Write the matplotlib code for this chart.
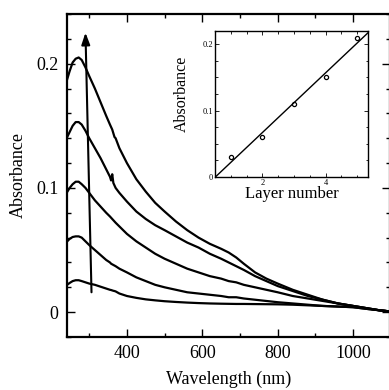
import numpy as np
import matplotlib
matplotlib.use("Agg")
import matplotlib.pyplot as plt
from matplotlib.ticker import MultipleLocator

plt.rcParams['font.family'] = ['Liberation Serif', 'DejaVu Serif']

# UV-vis spectra, 1 to 5 layers
wavelength = [240, 248, 256, 264, 272, 280, 290, 300, 315, 330, 345, 355, 358, 361, 364, 367,
              370, 380, 400, 425, 450, 475, 500, 530, 560, 590, 620, 650, 670, 690, 710, 740,
              770, 800, 840, 880, 920, 960, 1000, 1040, 1070, 1100]
abs_5 = [0.186, 0.194, 0.201, 0.204, 0.205, 0.203, 0.197, 0.190, 0.180, 0.169, 0.158, 0.151,
         0.149, 0.147, 0.144, 0.141, 0.140, 0.132, 0.120, 0.107, 0.097, 0.088, 0.081, 0.073,
         0.066, 0.060, 0.055, 0.051, 0.048, 0.044, 0.039, 0.032, 0.027, 0.023, 0.018, 0.014,
         0.010, 0.007, 0.005, 0.003, 0.0015, 0.0005]
abs_4 = [0.140, 0.145, 0.150, 0.153, 0.153, 0.151, 0.146, 0.140, 0.132, 0.124, 0.115, 0.109,
         0.106, 0.111, 0.104, 0.102, 0.100, 0.096, 0.089, 0.081, 0.075, 0.070, 0.066, 0.061,
         0.056, 0.052, 0.047, 0.043, 0.040, 0.037, 0.034, 0.029, 0.025, 0.021, 0.017, 0.013,
         0.010, 0.007, 0.005, 0.003, 0.0015, 0.0005]
abs_3 = [0.096, 0.100, 0.103, 0.105, 0.105, 0.103, 0.100, 0.096, 0.090, 0.085, 0.080, 0.077,
         0.076, 0.075, 0.074, 0.073, 0.072, 0.069, 0.063, 0.057, 0.052, 0.047, 0.043, 0.039,
         0.035, 0.032, 0.029, 0.027, 0.025, 0.024, 0.022, 0.020, 0.018, 0.016, 0.013, 0.011,
         0.009, 0.007, 0.005, 0.003, 0.0015, 0.0005]
abs_2 = [0.0565, 0.059, 0.0605, 0.061, 0.061, 0.060, 0.057, 0.054, 0.050, 0.046, 0.042, 0.040,
         0.039, 0.0385, 0.038, 0.0375, 0.037, 0.035, 0.032, 0.028, 0.025, 0.022, 0.020, 0.018,
         0.016, 0.015, 0.014, 0.013, 0.012, 0.012, 0.011, 0.010, 0.009, 0.008, 0.007, 0.006,
         0.005, 0.0045, 0.004, 0.0025, 0.0015, 0.0005]
abs_1 = [0.0217, 0.0235, 0.025, 0.0257, 0.0257, 0.025, 0.024, 0.023, 0.022, 0.0205, 0.019,
         0.018, 0.0178, 0.0175, 0.0172, 0.017, 0.0167, 0.015, 0.013, 0.0115, 0.0103, 0.0095,
         0.0088, 0.0082, 0.0077, 0.0073, 0.007, 0.0068, 0.0067, 0.0066, 0.0066, 0.0065,
         0.0064, 0.0063, 0.006, 0.0055, 0.005, 0.0045, 0.004, 0.0025, 0.0015, 0.0005]

# inset: absorbance vs layer number
layers = [1, 2, 3, 4, 5]
layer_abs = [0.03, 0.06, 0.11, 0.15, 0.21]

fig = plt.figure(figsize=(3.89, 3.90), dpi=100)
ax = fig.add_axes([67/389, 1 - 337/390, 323/389, 323/390])

for a in [abs_5, abs_4, abs_3, abs_2, abs_1]:
    ax.plot(wavelength, a, color='black', lw=1.6, solid_joinstyle='round')

ax.annotate('', xy=(290, 0.225), xytext=(306, 0.016),
            arrowprops=dict(arrowstyle='-|>,head_length=0.7,head_width=0.25',
                            color='black', lw=1.5, shrinkA=0, shrinkB=0))

ax.set_xlim(241, 1098)
ax.set_ylim(-0.02, 0.24)
ax.xaxis.set_major_locator(MultipleLocator(200))
ax.xaxis.set_minor_locator(MultipleLocator(100))
ax.set_yticks([0, 0.1, 0.2])
ax.set_yticklabels(['0', '0.1', '0.2'])
ax.yaxis.set_minor_locator(MultipleLocator(0.02))
ax.tick_params(which='both', direction='in', top=True, right=True, width=1.0,
               labelsize=13)
ax.tick_params(which='major', length=6, pad=6)
ax.tick_params(which='minor', length=3)
for s in ax.spines.values():
    s.set_linewidth(1.6)
ax.set_xlabel('Wavelength (nm)', fontsize=13, labelpad=6)
ax.set_ylabel('Absorbance', fontsize=13, labelpad=7)

# inset
ins = fig.add_axes([215/389, 1 - 177/390, 153/389, 146/390])
ins.plot(layers, layer_abs, 'o', mfc='none', mec='black', ms=3, mew=0.9)
slope, icpt = np.polyfit(layers, layer_abs, 1)
xf = np.array([0.5, 5.34])
ins.plot(xf, slope*xf + icpt, color='black', lw=1.0)
ins.set_xlim(0.5, 5.34)
ins.set_ylim(0, 0.22)
ins.set_xticks([2, 4])
ins.xaxis.set_minor_locator(MultipleLocator(0.5))
ins.set_yticks([0, 0.1, 0.2])
ins.set_yticklabels(['0', '0.1', '0.2'])
ins.yaxis.set_minor_locator(MultipleLocator(0.025))
ins.tick_params(which='both', direction='in', top=True, right=True, width=0.6,
                labelsize=6, pad=1.5)
ins.tick_params(which='major', length=3)
ins.tick_params(which='minor', length=1.8)
for s in ins.spines.values():
    s.set_linewidth(1.0)
ins.set_xlabel('Layer number', fontsize=12, labelpad=-1)
ins.set_ylabel('Absorbance', fontsize=11.5, labelpad=9)
ins.yaxis.label.set_y(0.57)

fig.savefig('out.png', dpi=100)
